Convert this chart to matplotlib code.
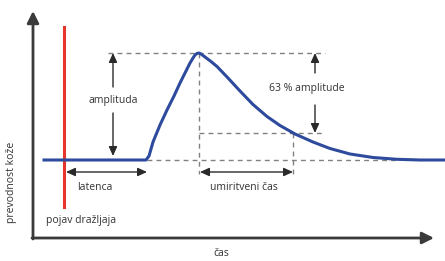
import matplotlib
matplotlib.use("Agg")
import matplotlib.pyplot as plt

# skin conductance response curve (pixel-like coordinates, y grows down)
curve_x = [44, 146, 149, 153, 160, 167, 174, 180, 186, 190, 193, 195, 197, 199, 201, 205, 211, 217, 228,
           240, 253, 267, 280, 295, 313, 330, 350, 373, 397, 420, 445]
curve_y = [160, 160, 156, 142, 125, 110, 96, 83, 71, 63, 58, 55, 53.5, 53, 54, 57, 61.5, 66.5, 78,
           91, 104.5, 116.5, 125.5, 134, 142, 148.5, 154, 157.5, 159.3, 160, 160]

baseline = 160
peak_x, peak_y = 199, 53
onset_x = 147
stim_x = 64
half_x, half_y = 293, 133

labels = {
    "amp": "amplituda",
    "amp63": "63 % amplitude",
    "lat": "latenca",
    "rec": "umiritveni čas",
    "stim": "pojav dražljaja",
    "xlab": "čas",
    "ylab": "prevodnost kože",
}

plt.rcParams["font.family"] = ["Open Sans", "DejaVu Sans"]
fig = plt.figure(figsize=(4.45, 2.61), dpi=100)
ax = fig.add_axes([0, 0, 1, 1])
ax.set_xlim(0, 445)
ax.set_ylim(261, 0)
ax.axis("off")

txt = "#333333"
dash = dict(color="#808080", lw=1.0, ls=(0, (3.5, 3)))
arr = dict(arrowstyle="-|>,head_length=0.55,head_width=0.25", color="#2a2a2a", lw=1.0,
           mutation_scale=10, shrinkA=0, shrinkB=0)
darr = dict(arr, arrowstyle="<|-|>,head_length=0.55,head_width=0.25")
axarr = dict(arrowstyle="-|>,head_length=0.5,head_width=0.25", color="#3a3a3a",
             lw=2, mutation_scale=14, shrinkA=0, shrinkB=0)

# axes with arrows
ax.annotate("", xy=(33, 11), xytext=(33, 239), arrowprops=axarr)
ax.annotate("", xy=(434, 238), xytext=(32, 238), arrowprops=axarr)

# dashed guides
ax.plot([108, 325], [peak_y, peak_y], **dash)
ax.plot([onset_x, 395], [baseline, baseline], **dash)
ax.plot([peak_x, 325], [half_y, half_y], **dash)
ax.plot([peak_x, peak_x], [peak_y, 174], **dash)
ax.plot([half_x, half_x], [half_y, 174], **dash)

# stimulus
ax.plot([stim_x, stim_x], [27, 207], color="#e8352b", lw=2.2)

# response curve
ax.plot(curve_x, curve_y, color="#2d4a9c", lw=2.2, solid_joinstyle="round")

# amplitude arrows
ax.annotate("", xy=(113, peak_y), xytext=(113, 87), arrowprops=arr)
ax.annotate("", xy=(113, baseline - 4), xytext=(113, 113), arrowprops=arr)
ax.text(113, 100, labels["amp"], ha="center", va="center", fontsize=7.5, color=txt)

# 63% arrows
ax.annotate("", xy=(315, peak_y), xytext=(315, 73), arrowprops=arr)
ax.annotate("", xy=(315, half_y), xytext=(315, 105), arrowprops=arr)
ax.text(307, 88, labels["amp63"], ha="center", va="center", fontsize=7.5, color=txt)

# latency / recovery arrows
ax.annotate("", xy=(66, 172), xytext=(147, 172), arrowprops=darr)
ax.text(95, 188, labels["lat"], ha="center", va="center", fontsize=7.5, color=txt)
ax.annotate("", xy=(200, 172), xytext=(293, 172), arrowprops=darr)
ax.text(244, 188, labels["rec"], ha="center", va="center", fontsize=7.5, color=txt)

ax.text(46, 220, labels["stim"], ha="left", va="center", fontsize=7.5, color=txt)
ax.text(221, 254, labels["xlab"], ha="center", va="center", fontsize=7.5, color=txt)
ax.text(12, 182, labels["ylab"], ha="center", va="center", rotation=90, fontsize=7.5, color=txt)

fig.savefig("out.png", dpi=100)
